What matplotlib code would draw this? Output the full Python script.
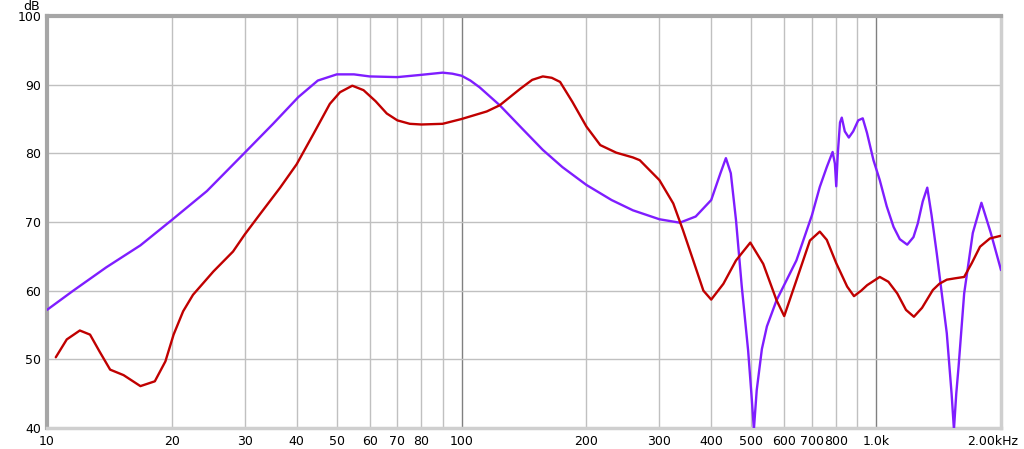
import matplotlib
matplotlib.use("Agg")
import matplotlib.pyplot as plt
from matplotlib.transforms import ScaledTranslation

# ---- data ----
red_freq = [10.5, 11.16, 12.0, 12.7, 13.4, 14.2, 15.3, 16.8, 18.2, 19.3, 20.2, 21.3, 22.5, 25.2, 28.1, 30, 32.6,
            36.5, 40, 43.9, 48.1, 50.9, 54.5, 58, 62, 66, 70, 75, 80, 90, 100, 115, 123.6, 138.5, 148, 157, 165,
            172.8, 185, 200, 216, 236, 259, 269, 300, 324, 342, 362, 383, 400, 428, 459, 497, 534, 575, 600,
            642, 692, 731, 760, 801, 851, 884, 920, 951, 1020, 1070, 1124, 1180, 1233, 1290, 1370, 1420, 1480,
            1550, 1630, 1700, 1780, 1880, 2000]
red_db = [50.3, 52.9, 54.2, 53.6, 51.1, 48.5, 47.7, 46.1, 46.8, 49.7, 53.6, 57.0, 59.4, 62.8, 65.7, 68.2, 71.1,
          75.0, 78.4, 82.8, 87.2, 88.9, 89.85, 89.2, 87.6, 85.8, 84.8, 84.3, 84.2, 84.3, 85.0, 86.1, 87.0, 89.4, 90.7, 91.2, 91.0,
          90.4, 87.5, 83.9, 81.2, 80.1, 79.4, 79.0, 76.1, 72.7, 68.8, 64.4, 60.0, 58.7, 61.0, 64.4, 67.0, 63.9, 58.6, 56.3,
          61.5, 67.3, 68.6, 67.4, 64.0, 60.6, 59.2, 60.0, 60.8, 62.0, 61.3, 59.6, 57.2, 56.2, 57.5, 60.1, 61.0, 61.6,
          61.8, 62.0, 64.0, 66.4, 67.6, 68.0]

purple_freq = [10, 11.57, 13.9, 16.8, 20.1, 24.3, 30, 35.1, 40.4, 45, 50, 55, 60, 70, 79, 90, 95, 100, 105, 110.6,
               123.6, 140, 157, 175, 200, 230, 259, 300, 336, 367, 400, 421, 434, 446, 459, 474, 491, 500, 507,
               515, 530, 545, 575, 642, 700, 731, 760, 785, 795, 801, 808, 818, 826, 840, 859, 880, 905, 928, 950,
               985, 1020, 1060, 1101, 1140, 1188, 1230, 1260, 1295, 1328, 1360, 1400, 1480, 1520, 1540, 1560, 1580,
               1630, 1710, 1794, 1890, 2000]
purple_db = [57.2, 60.0, 63.4, 66.6, 70.4, 74.5, 80.1, 84.3, 88.2, 90.6, 91.5, 91.5, 91.2, 91.1, 91.4, 91.75, 91.6, 91.3, 90.6, 89.6,
             87.0, 83.6, 80.5, 78.0, 75.4, 73.2, 71.7, 70.4, 69.9, 70.8, 73.2, 77.1, 79.3, 77.1, 70.3, 60.6, 51.3, 45.0, 39.8,
             45.5, 51.5, 54.8, 58.6, 64.4, 71.0, 75.1, 78.0, 80.2, 78.5, 75.2, 80.0, 84.5, 85.2, 83.2, 82.3, 83.2, 84.8, 85.1, 83.0,
             79.0, 76.1, 72.3, 69.3, 67.5, 66.7, 67.8, 69.8, 73.0, 75.0, 71.0, 65.4, 53.8, 45.0, 39.8, 45.0, 48.9,
             59.6, 68.4, 72.8, 68.4, 63.0]

x_ticks = [10, 20, 30, 40, 50, 60, 70, 80, 100, 200, 300, 400, 500, 600, 700, 800, 1000, 2000]
x_ticklabels = ["10", "20", "30", "40", "50", "60", "70", "80", "100", "200", "300", "400", "500", "600",
                "700", "800", "1.0k", "2.00kHz"]
x_grid_light = [20, 30, 40, 50, 60, 70, 80, 90, 200, 300, 400, 500, 600, 700, 800, 900]
x_grid_dark = [100, 1000]
y_ticks = [40, 50, 60, 70, 80, 90, 100]

# ---- figure ----
fig = plt.figure(figsize=(10.24, 4.49), dpi=100)
ax = fig.add_axes([47 / 1024, 1 - 428 / 449, 954 / 1024, 412 / 449])
ax.set_xscale("log")
ax.set_xlim(10, 2000)
ax.set_ylim(40, 100)

for g in x_grid_light:
    ax.axvline(g, color="#c0c0c0", lw=1.0, zorder=1)
for g in x_grid_dark:
    ax.axvline(g, color="#808080", lw=1.0, zorder=1)
for g in y_ticks[1:-1]:
    ax.axhline(g, color="#c0c0c0", lw=1.0, zorder=1)

ax.plot(purple_freq, purple_db, color="#7f1dff", lw=1.7, zorder=3,
        solid_joinstyle="round", solid_capstyle="round")
ax.plot(red_freq, red_db, color="#c00000", lw=1.7, zorder=4,
        solid_joinstyle="round", solid_capstyle="round")

ax.set_xticks(x_ticks)
ax.set_xticklabels(x_ticklabels)
ax.xaxis.set_minor_locator(matplotlib.ticker.NullLocator())
ax.set_yticks(y_ticks)
ax.tick_params(axis="both", length=0, labelsize=9, colors="#000000")
ax.tick_params(axis="x", pad=5)
ax.tick_params(axis="y", pad=4)

# shift the last x label left so it stays inside the figure
last = ax.get_xticklabels()[-1]
last.set_transform(last.get_transform() + ScaledTranslation(-8 / 100, 0, fig.dpi_scale_trans))

for side in ["left", "top"]:
    ax.spines[side].set_color("#a6a6a6")
    ax.spines[side].set_linewidth(3.0)
for side in ["right", "bottom"]:
    ax.spines[side].set_color("#cfcfcf")
    ax.spines[side].set_linewidth(2.5)

fig.text(32 / 1024, 1 - 6 / 449, "dB", fontsize=9, ha="center", va="center")

fig.savefig("out.png", dpi=100)
